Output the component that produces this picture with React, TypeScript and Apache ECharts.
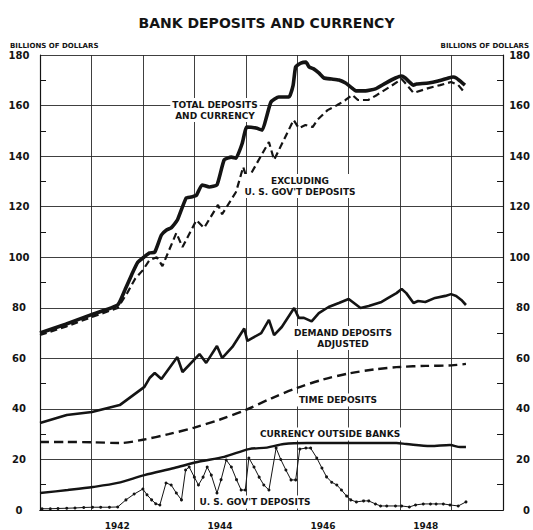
import React, { useEffect, useRef } from 'react';
import * as echarts from 'echarts';

const titleText = 'BANK DEPOSITS AND CURRENCY';
const unitLabel = 'BILLIONS OF DOLLARS';
const yearLabels = [1942, 1944, 1946, 1948];

// [decimal year, billions of dollars]
const totalDepositsAndCurrency = [
  [1941.0, 70.0], [1941.5, 73.5], [1942.0, 77.3], [1942.51, 81.1], [1942.65, 87], [1942.78, 93],
  [1942.9, 98], [1943.0, 99.7], [1943.13, 101.7], [1943.23, 102], [1943.36, 108.8], [1943.46, 110.8],
  [1943.55, 111.6], [1943.67, 114.7], [1943.84, 123.4], [1943.94, 123.8], [1944.04, 124.5],
  [1944.15, 128.6], [1944.29, 127.8], [1944.44, 128.6], [1944.58, 138.5], [1944.72, 139.6],
  [1944.81, 139.2], [1944.93, 145], [1945.02, 151.5], [1945.2, 151.1], [1945.32, 150.3],
  [1945.41, 156], [1945.49, 161.4], [1945.64, 163.4], [1945.84, 163.4], [1945.92, 168],
  [1945.97, 175.3], [1946.07, 176.8], [1946.17, 177.2], [1946.23, 175.3], [1946.32, 174.5],
  [1946.42, 172.9], [1946.52, 170.9], [1946.67, 170.5], [1946.81, 170.1], [1946.94, 168.9],
  [1947.06, 167], [1947.14, 165.8], [1947.33, 165.8], [1947.52, 166.6], [1947.72, 168.9],
  [1947.91, 170.9], [1948.03, 171.7], [1948.1, 170.9], [1948.26, 168.1], [1948.32, 168.5],
  [1948.55, 168.9], [1948.74, 169.7], [1948.94, 170.9], [1949.03, 171.3], [1949.09, 170.9],
  [1949.19, 169.3], [1949.26, 168.1],
];

const excludingGovDeposits = [
  [1941.0, 69.2], [1941.5, 72.5], [1942.0, 76.3], [1942.51, 79.9], [1942.7, 86], [1942.85, 91.5],
  [1943.0, 94.9], [1943.13, 98.9], [1943.27, 100], [1943.38, 96.5], [1943.65, 109.6],
  [1943.77, 104], [1944.04, 114.7], [1944.19, 111.6], [1944.46, 120.7], [1944.54, 117],
  [1944.81, 125.8], [1944.95, 135.7], [1945.03, 130.5], [1945.45, 145.6], [1945.55, 138.5],
  [1945.74, 146.4], [1945.93, 154.3], [1946.03, 151.1], [1946.16, 152.3], [1946.3, 151.5],
  [1946.39, 154.3], [1946.59, 158.2], [1946.78, 160.2], [1946.94, 162.2], [1947.07, 164.2],
  [1947.18, 162.2], [1947.38, 162.2], [1947.55, 164.2], [1947.8, 167.4], [1948.03, 170.5],
  [1948.1, 168.9], [1948.26, 165], [1948.55, 166.9], [1948.78, 168.1], [1948.99, 169.3],
  [1949.13, 168.1], [1949.26, 165],
];

const demandDepositsAdjusted = [
  [1941.0, 34.4], [1941.52, 37.6], [1942.01, 38.8], [1942.55, 41.5], [1943.03, 48.7],
  [1943.13, 52.2], [1943.23, 54.2], [1943.36, 51.8], [1943.67, 60.5], [1943.77, 54.6],
  [1944.1, 61.7], [1944.23, 58.2], [1944.44, 64.9], [1944.54, 60.1], [1944.74, 64.5],
  [1944.97, 71.8], [1945.03, 66.9], [1945.3, 70.0], [1945.45, 75.2], [1945.55, 69.2],
  [1945.7, 72.4], [1945.94, 79.9], [1946.03, 76], [1946.13, 76], [1946.28, 74.6],
  [1946.42, 77.9], [1946.61, 80.3], [1946.81, 81.9], [1947.0, 83.5], [1947.23, 79.9],
  [1947.39, 80.7], [1947.64, 82.3], [1947.77, 83.9], [1947.93, 85.8], [1948.03, 87.4],
  [1948.12, 85.8], [1948.26, 81.9], [1948.35, 82.7], [1948.49, 82.3], [1948.68, 83.9],
  [1948.88, 84.7], [1948.99, 85.4], [1949.09, 84.7], [1949.19, 83.1], [1949.28, 81.1],
];

const timeDeposits = [
  [1941.0, 26.9], [1941.5, 26.9], [1942.0, 26.8], [1942.55, 26.5], [1943.0, 27.8],
  [1943.5, 30.0], [1944.0, 32.6], [1944.5, 35.8], [1945.0, 39.6], [1945.5, 44.2],
  [1946.0, 48.3], [1946.5, 51.6], [1947.0, 54.0], [1947.5, 55.6], [1948.0, 56.6],
  [1948.5, 57.0], [1949.0, 57.2], [1949.28, 57.8],
];

const currencyOutsideBanks = [
  [1941.0, 6.7], [1941.54, 7.9], [1942.03, 9.1], [1942.51, 10.7], [1943.03, 13.8],
  [1943.61, 16.6], [1944.06, 19.0], [1944.58, 21.0], [1945.06, 24.1], [1945.41, 24.7],
  [1945.74, 26.1], [1946.19, 26.5], [1946.96, 26.5], [1947.93, 26.5], [1948.12, 26.1],
  [1948.59, 25.3], [1948.97, 25.7], [1949.17, 24.9], [1949.28, 24.9],
];

const usGovDeposits = [
  [1941.04, 0.5], [1941.2, 0.5], [1941.35, 0.6], [1941.52, 0.7], [1941.68, 0.8], [1941.85, 1.0],
  [1942.02, 1.1], [1942.18, 1.1], [1942.35, 1.1], [1942.51, 1.2], [1942.67, 4.0], [1942.83, 6.3],
  [1943.0, 8.3], [1943.08, 6.0], [1943.17, 4.0], [1943.25, 2.5], [1943.33, 2.0], [1943.45, 10.7],
  [1943.55, 9.9], [1943.65, 6.7], [1943.75, 4.0], [1943.83, 15.8], [1943.9, 17.0], [1944.0, 13.0],
  [1944.08, 9.9], [1944.17, 13.0], [1944.25, 17.0], [1944.33, 13.8], [1944.44, 6.7], [1944.52, 12.0],
  [1944.62, 19.8], [1944.72, 17.0], [1944.82, 12.0], [1944.91, 7.9], [1944.99, 7.9], [1945.06, 20.6],
  [1945.16, 17.0], [1945.26, 13.0], [1945.35, 9.9], [1945.45, 7.9], [1945.59, 24.5], [1945.68, 20.0],
  [1945.78, 15.8], [1945.88, 11.9], [1945.97, 11.9], [1946.05, 24.1], [1946.17, 24.5], [1946.26, 24.5],
  [1946.38, 20.6], [1946.48, 16.6], [1946.57, 13.1], [1946.67, 11.0], [1946.77, 9.9], [1946.86, 7.9],
  [1946.96, 5.5], [1947.04, 4.0], [1947.15, 3.2], [1947.29, 3.6], [1947.39, 3.6], [1947.52, 2.4],
  [1947.62, 1.6], [1947.74, 1.6], [1947.91, 1.6], [1948.03, 1.6], [1948.18, 1.2], [1948.3, 2.0],
  [1948.45, 2.4], [1948.59, 2.4], [1948.7, 2.4], [1948.84, 2.4], [1948.97, 2.0], [1949.13, 1.6],
  [1949.28, 3.2],
];

const seriesLabels = {
  total: 'TOTAL DEPOSITS\nAND CURRENCY',
  excluding: "EXCLUDING\nU. S. GOV'T DEPOSITS",
  demand: 'DEMAND DEPOSITS\nADJUSTED',
  time: 'TIME DEPOSITS',
  currency: 'CURRENCY OUTSIDE BANKS',
  gov: "U. S. GOV'T DEPOSITS",
};

const INK = '#141414';
const FONT = "'DejaVu Sans', 'Noto Sans', sans-serif";

export default function App() {
  const ref = useRef<HTMLDivElement>(null);

  useEffect(() => {
    if (!ref.current) return;
    const chart = echarts.init(ref.current, undefined, { renderer: 'svg' });

    const annot = (text: string, x: number, y: number, align = 'center') => ({
      type: 'text',
      x,
      y,
      z: 100,
      style: {
        text,
        fill: INK,
        font: `bold 9px ${FONT}`,
        align,
        verticalAlign: 'middle',
        lineHeight: 11,
        backgroundColor: '#fff',
        padding: [1, 2],
      },
    });

    const yAxisBase = {
      type: 'value',
      min: 0,
      max: 180,
      interval: 20,
      axisLine: { show: true, lineStyle: { color: INK, width: 1.2 } },
      axisTick: { show: false, inside: true },
      minorTick: { show: true, splitNumber: 2, length: 6, lineStyle: { color: INK, width: 1 } },
      minorSplitLine: { show: false },
    };

    chart.setOption({
      animation: false,
      backgroundColor: '#fff',
      title: {
        text: titleText,
        left: 'center',
        top: 11,
        textStyle: { fontFamily: FONT, fontSize: 14, fontWeight: 'bold', color: INK },
      },
      grid: { left: 40, right: 28, top: 55, bottom: 20, containLabel: false },
      xAxis: [
        {
          type: 'value',
          position: 'top',
          min: 1941,
          max: 1950,
          interval: 1,
          axisLine: { show: true, lineStyle: { color: INK, width: 1 } },
          axisTick: { show: false },
          axisLabel: { show: false },
          splitLine: { show: true, lineStyle: { color: '#2a2a2a', width: 0.9 } },
        },
        {
          type: 'value',
          position: 'bottom',
          min: 1941,
          max: 1950,
          interval: 0.5,
          axisLine: { show: true, lineStyle: { color: INK, width: 1.2 } },
          axisTick: { show: false },
          splitLine: { show: false },
          axisLabel: {
            margin: 11,
            fontFamily: FONT,
            fontSize: 9,
            fontWeight: 'bold',
            color: INK,
            formatter: (v: number) => {
              const y = Math.floor(v);
              return v - y > 0.25 && yearLabels.includes(y) ? String(y) : '';
            },
          },
        },
      ],
      yAxis: [
        {
          ...yAxisBase,
          position: 'left',
          splitLine: { show: true, lineStyle: { color: '#2a2a2a', width: 0.9 } },
          axisLabel: { margin: 21, align: 'center', fontFamily: FONT, fontSize: 10, fontWeight: 'bold', color: INK },
        },
        {
          ...yAxisBase,
          position: 'right',
          splitLine: { show: false },
          axisLabel: { margin: 27, align: 'right', fontFamily: FONT, fontSize: 10, fontWeight: 'bold', color: INK },
        },
      ],
      graphic: [
        {
          type: 'text', left: 10, top: 42,
          style: { text: unitLabel, fill: INK, font: `bold 7px ${FONT}` },
        },
        {
          type: 'text', right: 4, top: 42,
          style: { text: unitLabel, fill: INK, font: `bold 7px ${FONT}`, align: 'right' },
        },
        annot(seriesLabels.total, 215, 110),
        annot(seriesLabels.excluding, 300, 186),
        annot(seriesLabels.demand, 343, 338),
        annot(seriesLabels.time, 338, 400),
        annot(seriesLabels.currency, 330, 434),
        annot(seriesLabels.gov, 255, 502),
      ],
      series: [
        {
          type: 'line', xAxisIndex: 1, data: totalDepositsAndCurrency, showSymbol: false,
          lineStyle: { color: INK, width: 3.6 }, smooth: 0.15, z: 5,
        },
        {
          type: 'line', xAxisIndex: 1, data: excludingGovDeposits, showSymbol: false,
          lineStyle: { color: INK, width: 2.2, type: [7, 4] }, z: 4,
        },
        {
          type: 'line', xAxisIndex: 1, data: demandDepositsAdjusted, showSymbol: false,
          lineStyle: { color: INK, width: 2.6 }, z: 4,
        },
        {
          type: 'line', xAxisIndex: 1, data: timeDeposits, showSymbol: false, smooth: 0.3,
          lineStyle: { color: INK, width: 2.4, type: [9, 5] }, z: 4,
        },
        {
          type: 'line', xAxisIndex: 1, data: currencyOutsideBanks, showSymbol: false, smooth: 0.3,
          lineStyle: { color: INK, width: 2.4 }, z: 4,
        },
        {
          type: 'line', xAxisIndex: 1, data: usGovDeposits, showSymbol: true, symbol: 'circle', symbolSize: 3,
          itemStyle: { color: INK }, lineStyle: { color: INK, width: 1 }, z: 4,
        },
      ],
    });

    return () => chart.dispose();
  }, []);

  return (
    <div
      ref={ref}
      style={{ position: 'fixed', left: 0, top: 0, width: 533, height: 530, background: '#fff' }}
    />
  );
}
